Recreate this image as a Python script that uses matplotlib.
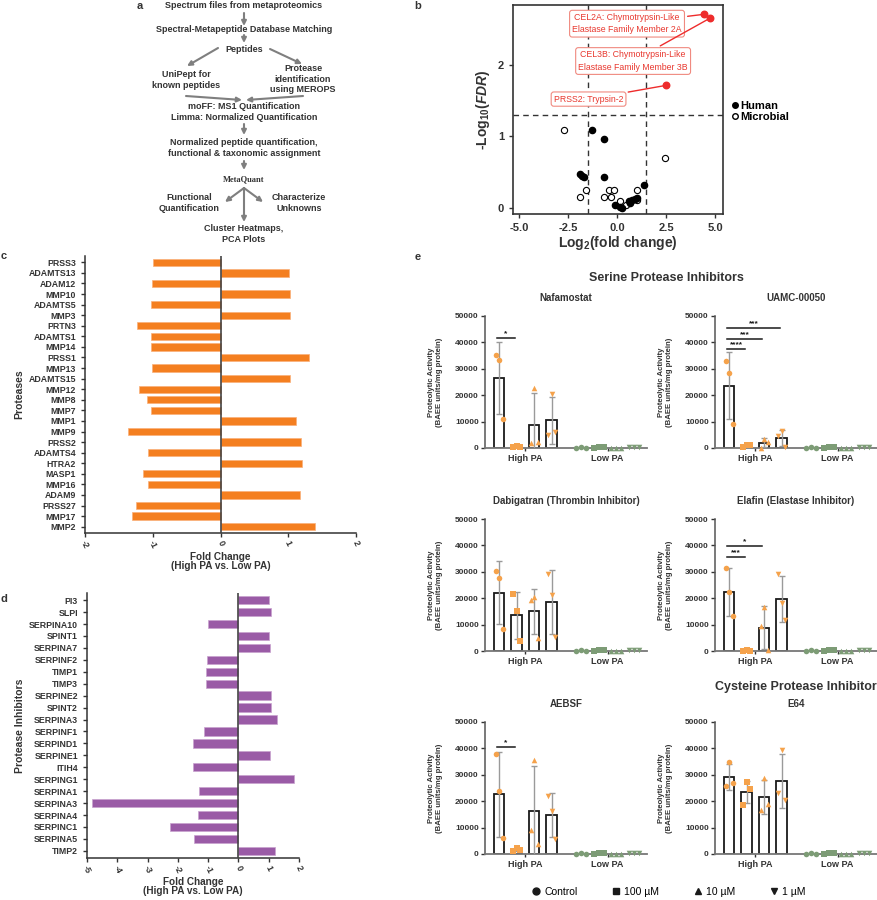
#!/usr/bin/env python3

import numpy as np
import matplotlib as mpl
mpl.use('Agg')
from matplotlib import pyplot as plt
from matplotlib.lines import Line2D

plt.rcParams['font.family'] = ['Liberation Sans', 'DejaVu Sans']
plt.rcParams['font.weight'] = 'bold'
plt.rcParams['axes.labelweight'] = 'bold'
plt.rcParams['mathtext.fontset'] = 'custom'
plt.rcParams['mathtext.rm'] = 'Liberation Sans:bold'
plt.rcParams['mathtext.it'] = 'Liberation Sans:bold:italic'
plt.rcParams['mathtext.bf'] = 'Liberation Sans:bold'

DARK = '#333333'

# ---- panel b: volcano ----
human_x = [-1.28, -0.65, -1.87, -1.79, -1.70, -0.68, 1.39, -0.09, 0.17, 0.26, 0.60, 0.68, 0.77, 0.94, 1.02]
human_y = [1.09, 0.96, 0.48, 0.45, 0.43, 0.43, 0.33, 0.04, 0.02, 0.01, 0.10, 0.08, 0.11, 0.13, 0.14]
microbe_x = [-2.72, 2.45, -1.58, -1.90, -0.43, -0.17, -0.65, -0.31, 0.17, 0.48, 1.02, 1.02]
microbe_y = [1.09, 0.70, 0.26, 0.15, 0.25, 0.25, 0.15, 0.15, 0.10, 0.05, 0.25, 0.11]
sig_x = [4.42, 4.76, 2.48]
sig_y = [2.70, 2.65, 1.71]
sig_labels = ['CEL2A: Chymotrypsin-Like\nElastase Family Member 2A',
              'CEL3B: Chymotrypsin-Like\nElastase Family Member 3B',
              'PRSS2: Trypsin-2']
sig_label_xy = [(0.51, 2.57), (0.82, 2.05), (-1.45, 1.52)]

# ---- panel c: proteases (top to bottom) ----
protease_names = ['PRSS3', 'ADAMTS13', 'ADAM12', 'MMP10', 'ADAMTS5', 'MMP3', 'PRTN3', 'ADAMTS1',
                  'MMP14', 'PRSS1', 'MMP13', 'ADAMTS15', 'MMP12', 'MMP8', 'MMP7', 'MMP1', 'MMP9',
                  'PRSS2', 'ADAMTS4', 'HTRA2', 'MASP1', 'MMP16', 'ADAM9', 'PRSS27', 'MMP17', 'MMP2']
protease_fc = [-0.99, 1.01, -1.01, 1.02, -1.02, 1.02, -1.23, -1.03, -1.02, 1.30, -1.01, 1.03, -1.20,
               -1.09, -1.02, 1.12, -1.36, 1.19, -1.07, 1.21, -1.15, -1.07, 1.17, -1.24, -1.30, 1.40]

# ---- panel d: protease inhibitors (top to bottom) ----
inhibitor_names = ['PI3', 'SLPI', 'SERPINA10', 'SPINT1', 'SERPINA7', 'SERPINF2', 'TIMP1', 'TIMP3',
                   'SERPINE2', 'SPINT2', 'SERPINA3', 'SERPINF1', 'SERPIND1', 'SERPINE1', 'ITIH4',
                   'SERPING1', 'SERPINA1', 'SERPINA3', 'SERPINA4', 'SERPINC1', 'SERPINA5', 'TIMP2']
inhibitor_fc = [1.01, 1.08, -1.00, 1.02, 1.04, -1.04, -1.06, -1.08, 1.09, 1.06, 1.28, -1.14, -1.50,
                1.04, -1.50, 1.84, -1.31, -4.82, -1.34, -2.26, -1.47, 1.22]

# ---- panel e: proteolytic activity (BAEE units/mg protein), 3 replicates ----
doses = ['Control', '100 µM', '10 µM', '1 µM']
nafamostat_high = [[35300, 33200, 10900], [300, 800, 500], [1800, 22700, 2200], [4800, 20600, 6000]]
uamc_high = [[33100, 28400, 9200], [300, 1000, 1000], [100, 3500, 2300], [4400, 6500, 500]]
dabigatran_high = [[30400, 27500, 8300], [21500, 15300, 3800], [19300, 20600, 5000], [29200, 21200, 5400]]
elafin_high = [[31600, 22200, 13400], [100, 200, 150], [9500, 16500, 400], [29200, 18100, 11700]]
aebsf_high = [[38000, 23700, 6100], [1300, 2300, 1600], [9000, 35700, 3900], [22100, 16200, 5700]]
e64_high = [[25900, 34700, 26900], [18700, 27100, 24600], [16500, 28800, 19100], [23100, 39500, 20600]]
low_pa = [[150, 200, 120], [180, 250, 200], [50, 80, 60], [300, 350, 320]]

panels_e = [
    ('Nafamostat', nafamostat_high, [(0, 1, 41800, '*')]),
    ('UAMC-00050', uamc_high, [(0, 1, 37500, '****'), (0, 2, 41400, '***'), (0, 3, 45400, '***')]),
    ('Dabigatran (Thrombin Inhibitor)', dabigatran_high, []),
    ('Elafin (Elastase Inhibitor)', elafin_high, [(0, 1, 35700, '***'), (0, 2, 39800, '*')]),
    ('AEBSF', aebsf_high, [(0, 1, 40500, '*')]),
    ('E64', e64_high, []),
]

W, H = 877, 900


def px_axes(fig, x0, y0, x1, y1):
    # pixel box (top-left origin) -> axes
    return fig.add_axes([x0 / W, 1 - y1 / H, (x1 - x0) / W, (y1 - y0) / H])


def flowchart(ax0):
    fs = 6.5
    tc = '#333333'
    texts = [
        ('Spectrum files from metaproteomics', 244, 6),
        ('Spectral-Metapeptide Database Matching', 244, 30),
        ('Peptides', 244, 49),
        ('UniPept for\nknown peptides', 186, 80),
        ('Protease\nidentification\nusing MEROPS', 303, 79),
        ('moFF: MS1 Quantification\nLimma: Normalized Quantification', 244, 112),
        ('Normalized peptide quantification,\nfunctional & taxonomic assignment', 244, 148),
        ('Functional\nQuantification', 189, 203),
        ('Characterize\nUnknowns', 299, 203),
        ('Cluster Heatmaps,\nPCA Plots', 244, 234),
    ]
    for t, x, y in texts:
        ax0.text(x, y, t, ha='center', va='center', fontsize=fs, color=tc, linespacing=1.15)
    ax0.text(244, 179, 'MetaQuant', ha='center', va='center', fontsize=6,
             family='Liberation Serif', color=tc)

    arrows = [((244, 13), (244, 26)), ((244, 35), (244, 43)),
              ((218, 48), (187, 66)), ((270, 49), (302, 64)),
              ((186, 96), (242, 100)), ((303, 96), (246, 100)),
              ((244, 124), (244, 135)), ((244, 161), (244, 170)),
              ((244, 188), (225, 202)), ((244, 188), (263, 202)), ((244, 188), (244, 222))]
    for s, e in arrows:
        ax0.annotate('', xy=e, xytext=s,
                     arrowprops=dict(arrowstyle='-|>', color='#7f7f7f', lw=1.5,
                                     mutation_scale=7, shrinkA=0, shrinkB=0))


def volcano(fig):
    ax = px_axes(fig, 513, 5, 723, 214)
    ax.axhline(1.3, color=DARK, ls=(0, (4, 3)), lw=1)
    ax.axvline(-1.5, color=DARK, ls=(0, (4, 3)), lw=1)
    ax.axvline(1.5, color=DARK, ls=(0, (4, 3)), lw=1)
    ax.scatter(microbe_x, microbe_y, s=20, facecolor='white', edgecolor='black', lw=0.8, zorder=3)
    ax.scatter(human_x, human_y, s=20, color='black', zorder=3)
    ax.scatter(sig_x, sig_y, s=22, color='#EE2C2C', zorder=4)
    for (px, py), lab, (tx, ty) in zip(zip(sig_x, sig_y), sig_labels, sig_label_xy):
        ax.annotate(lab, xy=(px, py), xytext=(tx, ty), ha='center', va='center',
                    fontsize=6.3, fontweight='normal', color='#E8382F', linespacing=1.5,
                    bbox=dict(boxstyle='round,pad=0.3', fc='white', ec='#F08A80', lw=0.8),
                    arrowprops=dict(arrowstyle='-', color='#EE2C2C', lw=1, shrinkB=2))
    ax.set_xlim(-5.3, 5.4)
    ax.set_ylim(-0.08, 2.83)
    ax.set_xticks([-5, -2.5, 0, 2.5, 5])
    ax.set_xticklabels(['-5.0', '-2.5', '0.0', '2.5', '5.0'])
    ax.set_yticks([0, 1, 2])
    ax.tick_params(labelsize=8, colors=DARK, width=1, length=3)
    for sp in ax.spines.values():
        sp.set_color(DARK)
        sp.set_linewidth(1.2)
    ax.set_xlabel('Log$_{2}$(fold change)', fontsize=10, color=DARK, labelpad=1)
    ax.set_ylabel('-Log$_{10}$($\\mathit{FDR}$)', fontsize=10, color=DARK, labelpad=4)
    handles = [Line2D([], [], marker='o', ls='', color='black', ms=4),
               Line2D([], [], marker='o', ls='', mfc='white', mec='black', ms=4)]
    ax.legend(handles, ['Human', 'Microbial'], loc='center left', bbox_to_anchor=(1.0, 0.49),
              frameon=False, fontsize=8, handletextpad=0.05, handlelength=0.8,
              labelspacing=0.05, borderpad=0.2)


def fold_bars(fig, box, names, values, color, edge, xlim, ylabel):
    ax = px_axes(fig, *box)
    n = len(names)
    pos = np.arange(n)[::-1]
    ax.barh(pos, values, height=0.7, color=color, edgecolor=edge, lw=0.5, zorder=2)
    ax.axvline(0, color='#444444', lw=1.2, zorder=3)
    ax.set_yticks(pos)
    ax.set_yticklabels(names)
    ax.set_ylim(-0.6, n - 0.4)
    ax.set_xlim(*xlim)
    ticks = list(range(xlim[0], xlim[1] + 1))
    ax.set_xticks(ticks)
    ax.set_xticklabels([str(t) for t in ticks], rotation=-65, ha='center', va='top')
    ax.tick_params(labelsize=6.3, colors=DARK, width=1, length=3)
    ax.tick_params(axis='x', pad=1)
    for s in ['top', 'right']:
        ax.spines[s].set_visible(False)
    for s in ['left', 'bottom']:
        ax.spines[s].set_color(DARK)
        ax.spines[s].set_linewidth(1.1)
    ax.set_xlabel('Fold Change\n(High PA vs. Low PA)', fontsize=7.2, color=DARK,
                  labelpad=2, linespacing=0.9)
    ax.set_ylabel(ylabel, fontsize=7.5, color=DARK, labelpad=3)
    return ax


def activity(ax, title, high, sig):
    markers = ['o', 's', '^', 'v']
    offs = np.array([-0.2, 0.0, 0.2])
    low_offs = np.array([-0.28, 0.0, 0.28])
    hx = np.arange(4)
    lx = hx + 4.7
    means = [np.mean(v) for v in high]
    sds = [np.std(v, ddof=1) for v in high]
    ax.bar(hx, means, width=0.62, facecolor='white', edgecolor='#1a1a1a', lw=1.3, zorder=2)
    ax.errorbar(hx, means, yerr=sds, fmt='none', ecolor='#9a9a9a', elinewidth=1,
                capsize=2.5, capthick=1, zorder=3)
    for i in range(4):
        ax.scatter(hx[i] + offs, high[i], marker=markers[i], s=16, color='#F5A24B',
                   zorder=4, clip_on=False, lw=0)
        ax.scatter(lx[i] + low_offs, low_pa[i], marker=markers[i], s=16, color='#7D9C76',
                   zorder=4, clip_on=False, lw=0)
    for a, b, y, lab in sig:
        ax.plot([hx[a] - 0.1, hx[b] - 0.1], [y, y], color='#1a1a1a', lw=1.1, zorder=5, clip_on=False)
        ax.text((hx[a] + hx[b]) / 2 - 0.1, y + 300, lab, ha='center', va='bottom',
                fontsize=6, color='#1a1a1a')
    ax.set_xlim(-0.8, 8.45)
    ax.set_ylim(0, 50000)
    ax.set_yticks(range(0, 50001, 10000))
    ax.set_xticks([1.5, 6.2])
    ax.set_xticklabels(['High PA', 'Low PA'])
    ax.tick_params(axis='y', labelsize=6, colors=DARK, width=1, length=3, pad=1.5)
    ax.tick_params(axis='x', labelsize=6.5, colors=DARK, width=1, length=2.5, pad=2)
    for s in ['top', 'right']:
        ax.spines[s].set_visible(False)
    ax.spines['left'].set_color('#555555')
    ax.spines['bottom'].set_color('#777777')
    ax.spines['left'].set_linewidth(1.1)
    ax.spines['bottom'].set_linewidth(1.3)
    ax.set_ylabel('Proteolytic Activity\n(BAEE units/mg protein)', fontsize=5.6,
                  color=DARK, linespacing=1.1)
    ax.yaxis.set_label_coords(-0.26, 0.5)
    ax.text(0.5, 1.14, title, transform=ax.transAxes, ha='center', va='center',
            fontsize=7, color=DARK)


def main():
    fig = plt.figure(figsize=(W / 100, H / 100), dpi=100)
    ax0 = fig.add_axes([0, 0, 1, 1])
    ax0.set_xlim(0, W)
    ax0.set_ylim(H, 0)
    ax0.axis('off')

    flowchart(ax0)
    for lab, x, y in [('a', 140, 6), ('b', 418, 6), ('c', 4, 256), ('d', 4, 599), ('e', 418, 257)]:
        ax0.text(x, y, lab, ha='center', va='center', fontsize=8, color=DARK)

    volcano(fig)
    fold_bars(fig, (85, 256, 356, 533), protease_names, protease_fc, '#F47F20', '#F9B07A',
              (-2, 2), 'Proteases')
    fold_bars(fig, (87, 593, 299, 858), inhibitor_names, inhibitor_fc, '#9A5BA6', '#C9A2CF',
              (-5, 2), 'Protease Inhibitors')

    cols = [(485, 647), (715, 877)]
    rows = [(316, 448), (519, 651), (722, 854)]
    for k, (title, high, sig) in enumerate(panels_e):
        r, c = divmod(k, 2)
        ax = px_axes(fig, cols[c][0], rows[r][0], cols[c][1], rows[r][1])
        activity(ax, title, high, sig)

    ax0.text(666, 278, 'Serine Protease Inhibitors', ha='center', va='center', fontsize=9, color=DARK)
    ax0.text(796, 687, 'Cysteine Protease Inhibitor', ha='center', va='center', fontsize=9, color=DARK)

    handles = [Line2D([], [], marker=m, ls='', color='#1a1a1a', ms=5) for m in ['o', 's', '^', 'v']]
    fig.legend(handles, doses, loc='center', bbox_to_anchor=(0.762, 0.009), ncol=4, frameon=False,
               prop={'size': 7.5, 'weight': 'normal'}, columnspacing=3.2, handletextpad=0.3,
               handlelength=1)

    fig.savefig('out.png', dpi=100)
    plt.close(fig)


if __name__ == '__main__':
    main()
